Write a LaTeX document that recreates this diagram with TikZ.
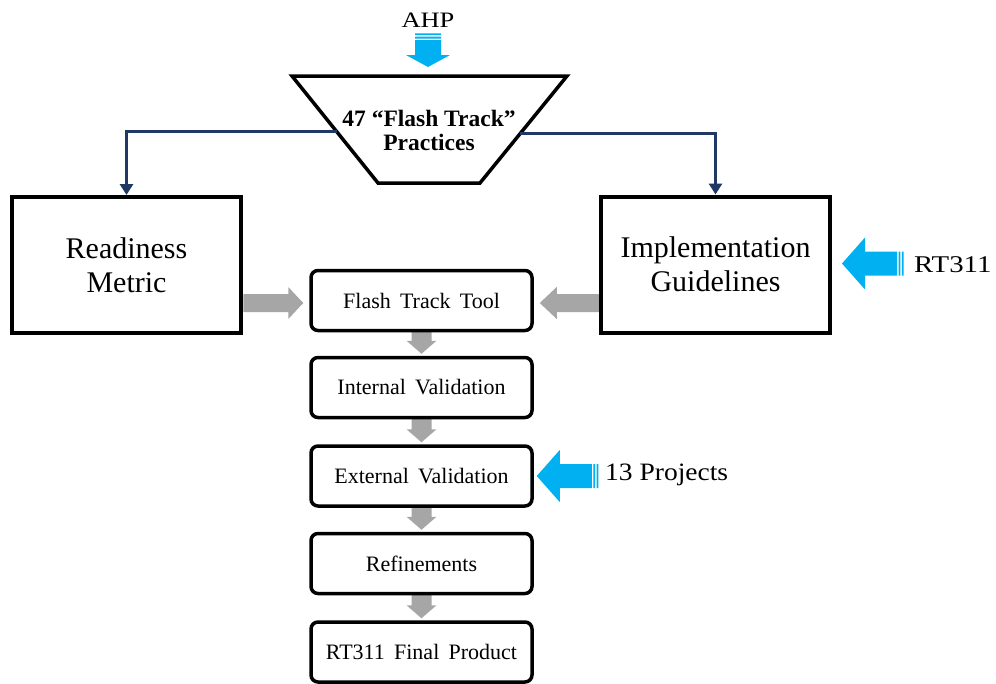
\documentclass[tikz,border=0pt]{standalone}
\usepackage{fontspec}
\setmainfont{Liberation Serif}
\usetikzlibrary{calc,arrows.meta,backgrounds}

\definecolor{navyline}{RGB}{31,56,100}
\definecolor{skyarrow}{RGB}{0,176,240}
\definecolor{greyarrow}{RGB}{166,166,166}

% block arrow with its tip at #2, pointing along canvas angle #3
% #1 colour, #4 head length, #5 body length, #6 body half width, #7 head half width
\newcommand\blockarrow[7]{%
  \fill[#1, shift={(#2)}, rotate=#3]
    (0pt,0pt) -- ({-#4*1pt},{#7*1pt}) -- ({-#4*1pt},{#6*1pt})
    -- ({-(#4+#5)*1pt},{#6*1pt}) -- ({-(#4+#5)*1pt},{-#6*1pt})
    -- ({-#4*1pt},{-#6*1pt}) -- ({-#4*1pt},{-#7*1pt}) -- cycle;}

% the same arrow with two thin bars trailing its tail
\newcommand\stripedarrow[7]{%
  \blockarrow{#1}{#2}{#3}{#4}{#5}{#6}{#7}%
  \fill[#1, shift={(#2)}, rotate=#3]
    ({-(#4+#5+1.5)*1pt},{-#6*1pt}) rectangle ({-(#4+#5+3.4)*1pt},{#6*1pt})
    ({-(#4+#5+4.8)*1pt},{-#6*1pt}) rectangle ({-(#4+#5+6.6)*1pt},{#6*1pt});}

% grey step arrow from box #1 down to box #2
\newcommand\stepdown[2]{%
  \blockarrow{greyarrow}{$(#2.north)+(0,-2)$}{-90}{13}{18}{10}{15}}

% wider word spacing used inside the step boxes
\newcommand\widewords{\spaceskip=0.42em plus 0.1em\relax}

\tikzset{
  bigbox/.style={draw, line width=4pt, fill=white, minimum width=229pt,
    minimum height=136pt, align=center, font=\fontsize{30}{34}\selectfont},
  stepbox/.style={draw, line width=3.5pt, fill=white, rounded corners=7pt,
    minimum width=221pt, minimum height=60pt,
    font=\fontsize{22}{26}\selectfont},
  feedline/.style={navyline, line width=3pt, -{Triangle[length=11pt,width=13pt]}},
  sidelabel/.style={anchor=west, inner sep=0pt}
}

\begin{document}
\begin{tikzpicture}[x=1pt, y=-1pt]
  \path[use as bounding box] (0,0) rectangle (996,683);

  % funnel of practices
  \coordinate (tTL) at (292,76);
  \coordinate (tTR) at (567,76);
  \coordinate (tBR) at (480,183);
  \coordinate (tBL) at (378,183);
  \coordinate (tTop) at (428,76);
  \draw[line width=3.5pt, line join=miter, fill=white] (tTL) -- (tTR) -- (tBR) -- (tBL) -- cycle;
  \node[align=center, font=\bfseries\fontsize{23.5}{24}\selectfont] (prac) at (429,130)
    {47 “Flash Track”\\Practices};

  \node[font=\fontsize{22}{24}\selectfont] (ahp) at (428,20) {\scalebox{1.2}[1]{AHP}};
  \stripedarrow{skyarrow}{$(tTop)+(0,-9)$}{-90}{12}{15}{13}{22}

  % the two derived products
  \node[bigbox] (ready) at (126.5,265) {Readiness\\Metric};
  \node[bigbox] (impl) at (715.5,264.5) {Implementation\\Guidelines};

  \coordinate (leftout) at ($(tTL)!0.523!(tBL)$);
  \coordinate (rightout) at ($(tTR)!0.542!(tBR)$);
  \draw[feedline] (leftout) -| (ready.north);
  \draw[feedline] (rightout) -| (impl.north);

  \stripedarrow{skyarrow}{$(impl.east)+(10,-1)$}{180}{23}{32}{12}{26}
  \node[sidelabel, font=\fontsize{24}{26}\selectfont] (rtlabel) at (914,265) {\scalebox{1.2}[1]{RT311}};

  % development steps
  \node[stepbox] (flash) at (421.5,300.5) {\widewords Flash Track Tool};
  \node[stepbox] (intval) at (421.5,387.5) {\widewords Internal Validation};
  \node[stepbox] (extval) at (421.5,476) {\widewords External Validation};
  \node[stepbox] (refine) at (421.5,563.5) {\widewords Refinements};
  \node[stepbox] (final) at (421.5,652) {\widewords RT311 Final Product};

  \begin{scope}[on background layer]
    \fill[white] (0,0) rectangle (996,683);
    \blockarrow{greyarrow}{$(flash.west)+(-6,2.5)$}{0}{15}{45}{9}{16}
    \blockarrow{greyarrow}{$(flash.east)+(6,2.5)$}{180}{17}{48}{9}{16}
    \stepdown{flash}{intval}
    \stepdown{intval}{extval}
    \stepdown{extval}{refine}
    \stepdown{refine}{final}
  \end{scope}

  \stripedarrow{skyarrow}{$(extval.east)+(3,0)$}{180}{23}{32}{12}{26}
  \node[sidelabel, font=\fontsize{25}{26}\selectfont] (projlabel) at (605,475) {\scalebox{1.1}[1]{13 Projects}};
\end{tikzpicture}
\end{document}
